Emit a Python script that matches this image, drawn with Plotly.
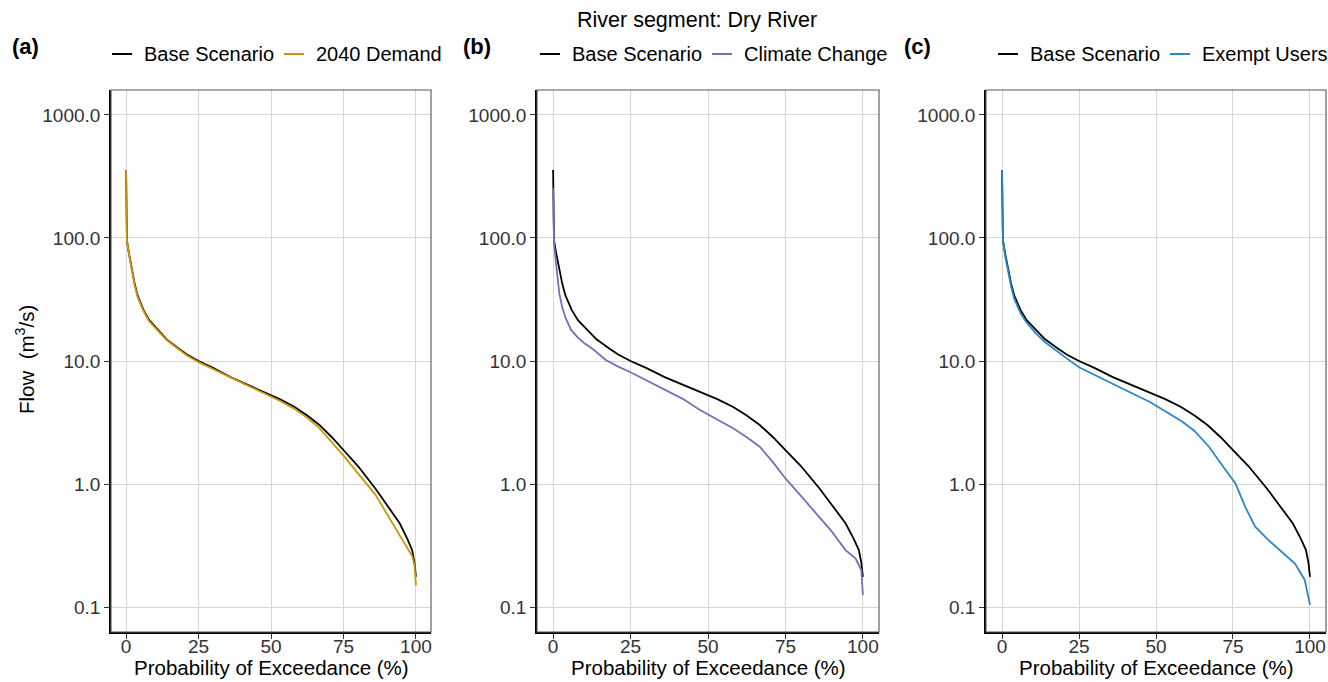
import plotly.graph_objects as go

# ---------------- data ----------------
base_x = [0, 0.1, 0.3, 1, 2, 3, 4, 6, 8, 11, 14, 18, 21, 25, 30, 36, 42, 47.4, 53, 58,
          62.5, 66.7, 71, 75, 80, 86, 90, 94.4, 97, 98.7, 99.5, 100]
base_y = [357, 150, 95, 75, 55, 42, 34, 26, 21.5, 17.8, 15.0, 12.7, 11.3, 10.0, 8.8, 7.4,
          6.4, 5.63, 4.9, 4.25, 3.6, 3.02, 2.4, 1.89, 1.4, 0.92, 0.68, 0.48, 0.36, 0.29, 0.23, 0.176]

demand_x = [0, 0.1, 0.3, 1, 2, 3, 4, 6, 8, 11, 14, 18, 21, 25, 30, 36, 42, 47.4, 53, 58,
            62.5, 66.7, 71, 75, 80, 86, 90, 94.4, 97, 98.7, 99.5, 100]
demand_y = [357, 150, 95, 74, 54, 41, 33, 25.5, 21, 17.5, 14.8, 12.5, 11.1, 9.8, 8.6, 7.3,
            6.3, 5.5, 4.75, 4.1, 3.45, 2.85, 2.2, 1.7, 1.22, 0.82, 0.57, 0.38, 0.3, 0.26, 0.22, 0.15]

climate_x = [0, 0.1, 0.3, 1, 2, 3, 4, 5.8, 8, 10, 13.2, 17, 21, 25, 30, 36, 42, 47.4, 53,
             58.1, 62.5, 66.7, 71, 75, 80, 85.9, 90, 94.4, 97.6, 99.5, 100]
climate_y = [254, 130, 90, 60, 35.6, 27, 22.5, 17.9, 15.5, 14, 12.3, 10.2, 9.0, 8.1, 7.0, 5.9,
             4.9, 4.0, 3.35, 2.84, 2.4, 2.01, 1.5, 1.11, 0.8, 0.54, 0.41, 0.29, 0.249, 0.2, 0.125]

exempt_x = [0, 0.1, 0.3, 1, 2, 3, 4, 6, 8, 11, 14, 18, 21, 25, 30, 36, 42, 47.9, 53, 58.6,
            62.5, 67.2, 72.6, 75.8, 79, 82.2, 86.5, 90.8, 95.1, 98.3, 100]
exempt_y = [357, 150, 95, 72, 52, 40, 32, 24.5, 20.5, 16.8, 14.2, 11.9, 10.5, 8.9, 7.7, 6.5,
            5.5, 4.67, 3.9, 3.21, 2.7, 2.01, 1.30, 1.01, 0.65, 0.45, 0.35, 0.28, 0.226, 0.166, 0.104]

x_ticks = [0, 25, 50, 75, 100]
y_ticks = [0.1, 1, 10, 100, 1000]
y_ticktext = ["0.1", "1.0", "10.0", "100.0", "1000.0"]

panel_labels = ["(a)", "(b)", "(c)"]
scen_names = ["2040 Demand", "Climate Change", "Exempt Users"]
scen_colors = ["#C9960C", "#7570B8", "#2B86C8"]
scen_x = [demand_x, climate_x, exempt_x]
scen_y = [demand_y, climate_y, exempt_y]

# ---------------- layout helpers ----------------
W, H = 1328, 682
def fx(px):
    return px / W
def fy(py):
    return 1 - py / H

panel_px = [(111, 431), (537, 879), (986, 1326)]
top_px, bot_px = 90, 632
legend_start = [112, 540, 998]
label_px = [25, 477, 917]

FONT = "Liberation Sans, Arial, sans-serif"
FS_TICK = 19
FS_LEG = 20
FS_TITLE = 20.5

fig = go.Figure()
shapes = []
annotations = []

for i in range(3):
    ax = "" if i == 0 else str(i + 1)
    xr, yr = "x" + ax, "y" + ax
    fig.add_trace(go.Scatter(x=base_x, y=base_y, mode="lines", name="Base Scenario",
                             line=dict(color="black", width=1.8), xaxis=xr, yaxis=yr,
                             showlegend=False))
    fig.add_trace(go.Scatter(x=scen_x[i], y=scen_y[i], mode="lines", name=scen_names[i],
                             line=dict(color=scen_colors[i], width=1.8), xaxis=xr, yaxis=yr,
                             showlegend=False))
    l, r = panel_px[i]
    fig.layout["xaxis" + ax] = dict(
        domain=[fx(l), fx(r)], range=[-5.2, 105.2], anchor=yr,
        tickvals=x_ticks, ticks="outside", ticklen=5, tickwidth=1.2, tickcolor="#333",
        ticklabelstandoff=-9,
        showgrid=True, gridcolor="#d6d6d6", gridwidth=1.3, zeroline=False,
        showline=True, linecolor="black", linewidth=1.6,
        tickfont=dict(family=FONT, size=FS_TICK, color="#333"), automargin=False)
    fig.layout["yaxis" + ax] = dict(
        domain=[fy(bot_px), fy(top_px)], type="log", range=[-1.203, 3.203], anchor=xr,
        tickvals=y_ticks, ticktext=y_ticktext, ticks="outside", ticklen=5, tickwidth=1.2,
        tickcolor="#333", showgrid=True, gridcolor="#d6d6d6", gridwidth=1.3, zeroline=False,
        showline=True, linecolor="black", linewidth=1.6,
        tickfont=dict(family=FONT, size=FS_TICK, color="#333"), automargin=False)
    # panel border (top / right)
    shapes.append(dict(type="rect", xref=xr + " domain", yref=yr + " domain",
                       x0=0, x1=1, y0=0, y1=1, line=dict(color="#555", width=1.1),
                       layer="above"))
    # manual legend
    s = legend_start[i]
    ly = 54
    entries = [("Base Scenario", "black"), (scen_names[i], scen_colors[i])]
    cur = s
    for name, col in entries:
        shapes.append(dict(type="line", xref="paper", yref="paper",
                           x0=fx(cur), x1=fx(cur + 20), y0=fy(ly), y1=fy(ly),
                           line=dict(color=col, width=2)))
        annotations.append(dict(text=name, xref="paper", yref="paper", x=fx(cur + 30), y=fy(ly),
                                xanchor="left", yanchor="middle", showarrow=False,
                                font=dict(family=FONT, size=FS_LEG, color="black")))
        cur = cur + 30 + 130 + 12
    # panel label
    annotations.append(dict(text="<b>" + panel_labels[i] + "</b>", xref="paper", yref="paper",
                            x=fx(label_px[i]), y=fy(47), xanchor="center", yanchor="middle",
                            showarrow=False, font=dict(family=FONT, size=22, color="black")))
    # x axis title
    annotations.append(dict(text="Probability of Exceedance (%)", xref="paper", yref="paper",
                            x=fx((l + r) / 2), y=fy(667), xanchor="center", yanchor="middle",
                            showarrow=False, font=dict(family=FONT, size=FS_TITLE, color="black")))

annotations.append(dict(text="Flow  (m<sup>3</sup>/s)", xref="paper", yref="paper",
                        x=fx(25), y=fy(360), xanchor="center", yanchor="middle", textangle=-90,
                        showarrow=False, font=dict(family=FONT, size=FS_TITLE, color="black")))
annotations.append(dict(text="River segment: Dry River", xref="paper", yref="paper",
                        x=fx(697), y=fy(20), xanchor="center", yanchor="middle",
                        showarrow=False, font=dict(family=FONT, size=21.5, color="black")))

fig.update_layout(width=W, height=H, margin=dict(l=0, r=0, t=0, b=0),
                  paper_bgcolor="white", plot_bgcolor="white",
                  shapes=shapes, annotations=annotations, showlegend=False)

fig.write_html("out.html")
